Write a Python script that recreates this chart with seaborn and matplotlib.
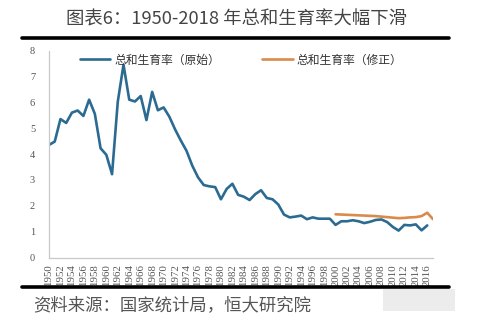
import numpy as np
import pandas as pd
import matplotlib
matplotlib.use("Agg")
import matplotlib.pyplot as plt
from matplotlib.lines import Line2D
from matplotlib.patches import Rectangle
import seaborn as sns

# Total fertility rate, original series (1950-2016)
years_orig = list(range(1950, 2017))
tfr_orig = [
    4.35, 4.48, 5.35, 5.20, 5.60, 5.68, 5.47, 6.10, 5.55, 4.22,
    3.97, 3.22, 6.02, 7.45, 6.10, 6.03, 6.24, 5.31, 6.40, 5.69,
    5.80, 5.44, 4.95, 4.52, 4.12, 3.55, 3.10, 2.80, 2.75, 2.72,
    2.25, 2.65, 2.85, 2.42, 2.35, 2.22, 2.45, 2.60, 2.30, 2.25,
    2.05, 1.66, 1.55, 1.58, 1.62, 1.48, 1.55, 1.50, 1.50, 1.50,
    1.26, 1.40, 1.40, 1.44, 1.40, 1.33, 1.38, 1.45, 1.47, 1.37,
    1.18, 1.04, 1.26, 1.24, 1.28, 1.05, 1.24,
]

# Total fertility rate, revised series (2000-2017)
years_rev = list(range(2000, 2018))
tfr_rev = [
    1.67, 1.66, 1.65, 1.64, 1.63, 1.62, 1.61, 1.60, 1.58, 1.56,
    1.54, 1.52, 1.53, 1.55, 1.56, 1.60, 1.73, 1.48,
]

label_orig = "总和生育率（原始）"
label_rev = "总和生育率（修正）"
tick_years = list(range(1950, 2017, 2))
title_text = "图表6：1950-2018 年总和生育率大幅下滑"
source_text = "资料来源：国家统计局，恒大研究院"

df = pd.concat([
    pd.DataFrame({"年份": years_orig, "总和生育率": tfr_orig, "序列": label_orig}),
    pd.DataFrame({"年份": years_rev, "总和生育率": tfr_rev, "序列": label_rev}),
], ignore_index=True)

sns.set_theme(style="white")
plt.rcParams["font.family"] = ["Noto Sans CJK SC", "DejaVu Sans"]

W, H = 487, 325
fig = plt.figure(figsize=(W / 100, H / 100), dpi=100)
fig.patch.set_facecolor("white")
ax = fig.add_axes([49 / W, 1 - 257.5 / H, (433 - 49) / W, (257.5 - 50.5) / H])

palette = {label_orig: "#2b6b92", label_rev: "#d98b4c"}
sns.lineplot(data=df, x="年份", y="总和生育率", hue="序列", palette=palette,
             linewidth=1.9, ax=ax, legend=False, solid_joinstyle="round",
             solid_capstyle="round")

ax.set_xlim(1950, 2017)
ax.set_ylim(0, 8)
ax.set_xlabel("")
ax.set_ylabel("")
ax.set_facecolor("white")

for side in ("top", "right"):
    ax.spines[side].set_visible(False)
for side in ("left", "bottom"):
    ax.spines[side].set_color("#c8c8c8")
    ax.spines[side].set_linewidth(0.9)

ax.set_yticks(range(0, 9))
ax.set_yticklabels([str(v) for v in range(0, 9)], family="Liberation Serif",
                   fontsize=7.5, color="#555555")
ax.set_xticks(tick_years)
ax.set_xticklabels([str(y) for y in tick_years], rotation=90,
                   family="Liberation Serif", fontsize=7.8, color="#555555")
ax.tick_params(axis="both", which="major", direction="out", length=3,
               width=0.8, color="#c8c8c8", pad=2)
ax.tick_params(axis="y", pad=7)
ax.grid(False)

handles = [Line2D([0], [0], color=palette[label_orig], lw=1.9),
           Line2D([0], [0], color=palette[label_rev], lw=1.9)]
ax.legend(handles, [label_orig, label_rev], loc="center",
          bbox_to_anchor=(0.5, 0.954), ncol=2, frameon=False,
          prop={"family": ["Noto Sans CJK SC"], "size": 8.5, "weight": "medium"},
          handlelength=2.6, handletextpad=0.3, columnspacing=3.6,
          labelcolor="#333333")

# Title and framing rules
fig.text(236 / W, 1 - 19 / H, title_text, ha="center", va="center",
         fontsize=13.2, color="#444444",
         family=["Noto Sans CJK SC", "DejaVu Sans"], weight="light")
fig.add_artist(Line2D([22 / W, 449 / W], [1 - 37.5 / H, 1 - 37.5 / H],
                      color="black", lw=2.6, transform=fig.transFigure))
fig.add_artist(Line2D([22 / W, 449 / W], [1 - 287 / H, 1 - 287 / H],
                      color="black", lw=2.6, transform=fig.transFigure))

# Faint grey block in the lower right corner
fig.add_artist(Rectangle((383 / W, 1 - 311 / H), 72 / W, 22 / H,
                         transform=fig.transFigure, color="#ececec",
                         lw=0, zorder=0))

fig.text(33 / W, 1 - 305 / H, source_text, ha="left", va="center",
         fontsize=12.5, color="#555555",
         family=["Noto Sans CJK SC", "DejaVu Sans"], weight="light")

fig.savefig("out.png", dpi=100, facecolor="white")
